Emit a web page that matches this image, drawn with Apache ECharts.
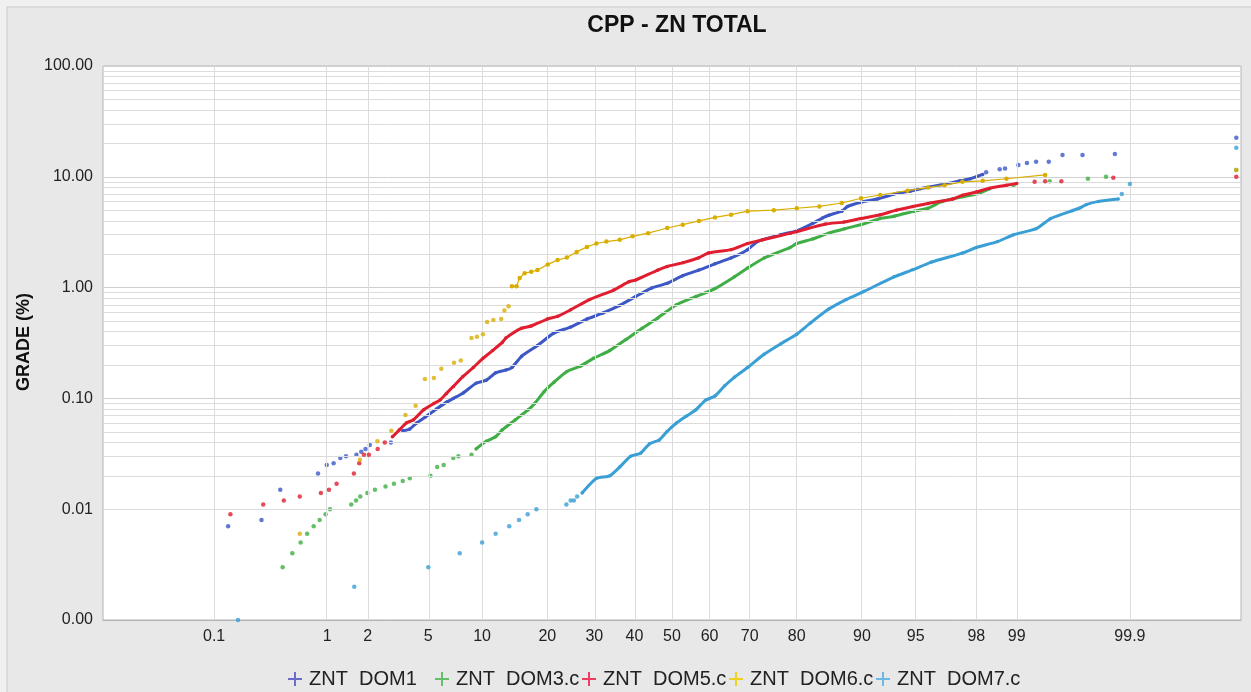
<!DOCTYPE html>
<html>
<head>
<meta charset="utf-8">
<script src="https://cdn.jsdelivr.net/npm/echarts@6/dist/echarts.min.js"></script>
<style>
  html, body { margin: 0; padding: 0; background: #f0f0f0; }
  #chart { width: 1251px; height: 692px; }
</style>
</head>
<body>
<div id="chart"></div>
<script>
// Cumulative probability (%) vs grade (%) for each domain.
// Each domain: sparse tail samples and the dense central run.
const dom1Tail = [[0.137,0.007],[0.28,0.008],[0.41,0.015],[0.845,0.021],[0.99,0.025],[1.12,0.026],[1.26,0.029],[1.39,0.030],[1.66,0.031],[1.8,0.033],[1.93,0.035],[2.07,0.038],[2.89,0.040],
  [98.3,11.0],[98.65,11.7],[98.77,11.9],[99.03,12.8],[99.17,13.3],[99.3,13.7],[99.45,13.7],[99.58,15.7],[99.72,15.7],[99.86,16.1],[99.993,22.5]];
const dom1Run = [[3.46,0.051],[3.84,0.053],[4.24,0.060],[4.8,0.068],[5.65,0.081],[6.44,0.093],[7.0,0.10],[7.94,0.112],[9.3,0.137],[10.5,0.146],[11.7,0.17],[13.1,0.18],[14.0,0.19],[15.5,0.24],[18.2,0.30],[21.3,0.39],[24.7,0.44],[28.3,0.52],[32.1,0.59],[36.2,0.69],[40.3,0.83],[44.5,0.99],[48.6,1.09],[52.9,1.28],[57.2,1.44],[61.4,1.64],[65.5,1.85],[69.5,2.2],[71.8,2.6],[76.8,3.0],[80,3.25],[82.9,3.8],[84.5,4.25],[85.5,4.5],[87.4,4.9],[88.2,5.4],[89.9,5.9],[91.7,6.3],[93.6,7.1],[94.6,7.4],[95.3,7.8],[96.9,8.7],[97.4,9.2],[97.8,9.6],[98.2,10.5]];

const dom3Tail = [[0.43,0.003],[0.52,0.004],[0.61,0.005],[0.69,0.006],[0.78,0.007],[0.87,0.008],[0.97,0.009],[1.05,0.010],[1.52,0.011],[1.65,0.012],[1.77,0.013],[1.99,0.014],[2.25,0.015],[2.66,0.016],[3.03,0.017],[3.46,0.018],[3.84,0.019],[5.15,0.020],[5.65,0.024],[6.17,0.025],[7.0,0.029],[7.47,0.030],[8.8,0.031],
  [98.94,8.4],[99.46,9.1],[99.75,9.6],[99.83,10.0],[99.993,11.5]];
const dom3Run = [[9.3,0.035],[10.5,0.041],[11.7,0.045],[12.6,0.052],[14.5,0.064],[16.6,0.079],[17.7,0.09],[19.4,0.115],[21.3,0.14],[23.9,0.175],[26.8,0.195],[29.8,0.23],[33.7,0.27],[37.8,0.34],[42,0.43],[46.1,0.53],[51.2,0.70],[56.4,0.83],[61.4,0.98],[66.3,1.25],[69.5,1.5],[73.3,1.85],[78.7,2.3],[80,2.5],[82.9,2.75],[85.5,3.1],[87.8,3.4],[89.9,3.7],[92,4.2],[93.3,4.4],[94.9,4.9],[95.8,5.2],[96.6,6.0],[97.5,6.6],[98.1,7.1],[98.4,7.8]];

const dom5Tail = [[0.144,0.009],[0.29,0.011],[0.44,0.012],[0.6,0.013],[0.89,0.014],[1.03,0.015],[1.18,0.017],[1.59,0.021],[1.74,0.026],[1.88,0.031],[2.04,0.031],[2.35,0.035],[2.63,0.040],
  [99.28,9.0],[99.41,9.1],[99.57,9.1],[99.855,9.8],[99.993,10.0]];
const dom5Run = [[2.96,0.045],[3.29,0.052],[3.65,0.060],[4.04,0.064],[4.69,0.079],[5.4,0.090],[5.9,0.097],[6.4,0.111],[7.0,0.128],[7.9,0.157],[9.0,0.19],[10.1,0.23],[11.3,0.27],[12.6,0.32],[13.1,0.35],[15.5,0.43],[17.1,0.45],[20,0.52],[22,0.55],[24.7,0.63],[28.9,0.78],[34.7,0.95],[38.6,1.13],[40.3,1.17],[46.2,1.44],[48.7,1.55],[53,1.68],[57.2,1.86],[59.7,2.05],[65.5,2.2],[69.5,2.5],[73,2.7],[78.8,3.1],[80,3.2],[85,3.75],[87.7,3.9],[89.9,4.2],[92,4.55],[93.5,5.0],[94.8,5.4],[95.8,5.75],[97.1,6.3],[97.5,6.8],[98,7.3],[98.4,7.9],[98.8,8.4],[99,8.7]];

const dom6Tail = [[0.6,0.006],[1.76,0.028],[2.34,0.041],[2.91,0.051],[3.6,0.071],[4.18,0.086],[4.77,0.15],[5.4,0.153],[5.97,0.185],[7.06,0.21],[7.7,0.22],[8.8,0.35],[9.4,0.36],[10.1,0.38],[10.6,0.49],[11.4,0.51],[12.45,0.52],[12.9,0.62],[13.5,0.68],
  [99.993,11.5]];
const dom6Run = [[14,1.03],[14.7,1.03],[15.2,1.22],[16,1.35],[17.1,1.39],[18.2,1.44],[20.1,1.62],[22,1.77],[23.9,1.87],[26,2.1],[28.3,2.33],[30.5,2.5],[32.9,2.6],[36.2,2.7],[39.5,2.9],[43.6,3.1],[48.7,3.45],[52.9,3.7],[57.2,4.0],[61.4,4.3],[65.5,4.55],[69.5,4.9],[75.4,5.0],[80,5.2],[84,5.4],[87.4,5.8],[89.9,6.4],[92,6.85],[94.4,7.5],[95.8,8.0],[96.7,8.4],[97.5,9.0],[98.2,9.2],[98.8,9.6],[99.41,10.4]];

const dom7Tail = [[0.17,0.001],[1.6,0.002],[5.0,0.003],[7.6,0.004],[10,0.005],[11.7,0.006],[13.6,0.007],[15.1,0.008],[16.5,0.009],[18,0.010],[23.8,0.011],[24.7,0.012],[25.4,0.012],[26.1,0.013],
  [99.88,7.0],[99.9,8.6],[99.993,18.3]];
const dom7Run = [[27.2,0.014],[30.5,0.019],[33.7,0.020],[36.2,0.024],[39,0.030],[41.6,0.032],[44,0.039],[46.5,0.042],[48.6,0.050],[51.2,0.060],[53.8,0.069],[56.4,0.079],[58.9,0.096],[61.4,0.105],[63.9,0.13],[66.3,0.155],[69.5,0.19],[73.3,0.25],[76.8,0.31],[80,0.38],[82.5,0.48],[85.5,0.64],[88,0.78],[90.2,0.92],[93.3,1.25],[94.8,1.45],[96,1.7],[97.5,2.05],[98,2.3],[98.6,2.6],[98.94,3.0],[99.3,3.4],[99.47,4.2],[99.7,5.2],[99.74,5.6],[99.8,6.0],[99.87,6.3]];

const seriesNames = ['ZNT  DOM1', 'ZNT  DOM3.csv', 'ZNT  DOM5.csv', 'ZNT  DOM6.csv', 'ZNT  DOM7.csv'];
const probTicks = [0.1, 1, 2, 5, 10, 20, 30, 40, 50, 60, 70, 80, 90, 95, 98, 99, 99.9];
const gradeDecades = [0.001, 0.01, 0.1, 1, 10];

// Inverse standard normal CDF (Acklam) used for the probability axis.
function probit(p) {
  const a = [-3.969683028665376e+01, 2.209460984245205e+02, -2.759285104469687e+02, 1.383577518672690e+02, -3.066479806614716e+01, 2.506628277459239e+00];
  const b = [-5.447609879822406e+01, 1.615858368580409e+02, -1.556989798598866e+02, 6.680131188771972e+01, -1.328068155288572e+01];
  const c = [-7.784894002430293e-03, -3.223964580411365e-01, -2.400758277161838e+00, -2.549732539343734e+00, 4.374664141464968e+00, 2.938163982698783e+00];
  const d = [7.784695709041462e-03, 3.224671290700398e-01, 2.445134137142996e+00, 3.754408661907416e+00];
  const pl = 0.02425, ph = 1 - pl;
  let q, r;
  if (p < pl) {
    q = Math.sqrt(-2 * Math.log(p));
    return (((((c[0]*q+c[1])*q+c[2])*q+c[3])*q+c[4])*q+c[5]) / ((((d[0]*q+d[1])*q+d[2])*q+d[3])*q+1);
  }
  if (p <= ph) {
    q = p - 0.5; r = q * q;
    return (((((a[0]*r+a[1])*r+a[2])*r+a[3])*r+a[4])*r+a[5])*q / (((((b[0]*r+b[1])*r+b[2])*r+b[3])*r+b[4])*r+1);
  }
  q = Math.sqrt(-2 * Math.log(1 - p));
  return -(((((c[0]*q+c[1])*q+c[2])*q+c[3])*q+c[4])*q+c[5]) / ((((d[0]*q+d[1])*q+d[2])*q+d[3])*q+1);
}
const toXY = arr => arr.map(([pct, g]) => [probit(pct / 100), g]);
const tickZ = probTicks.map(p => probit(p / 100));

const colors = ['#3d57c6', '#3fae45', '#e01e30', '#d9ae00', '#3a9fd5'];
const legendColors = ['#6b6bc9', '#63bf6c', '#ef3a62', '#efd21e', '#6ab8e6'];
const tails = [dom1Tail, dom3Tail, dom5Tail, dom6Tail, dom7Tail];
const runs = [dom1Run, dom3Run, dom5Run, dom6Run, dom7Run];

// minor log gridlines 2..9 inside every decade
const minorGrades = [];
gradeDecades.forEach(dec => { for (let m = 2; m <= 9; m++) minorGrades.push(+(m * dec).toPrecision(3)); });

const font = "'Liberation Sans', Arial, sans-serif";
const plusIcon = 'path://M4.3,0h1.4v4.3h4.3v1.4h-4.3v4.3h-1.4v-4.3h-4.3v-1.4h4.3z';

const series = [{
  name: 'grid',
  type: 'line',
  data: [],
  z: 1,
  silent: true,
  markLine: {
    silent: true,
    symbol: ['none', 'none'],
    label: { show: false },
    animation: false,
    lineStyle: { color: '#dcdcdc', width: 1, type: 'solid' },
    data: tickZ.map(z => ({ xAxis: z })).concat(minorGrades.map(g => ({ yAxis: g })))
  }
}];
seriesNames.forEach((name, i) => {
  series.push({
    name, type: 'line', data: toXY(runs[i]), z: 3 + i,
    symbol: 'circle', symbolSize: i === 3 ? 4.5 : 3.5, showAllSymbol: true,
    smooth: i === 3 ? false : 0.2,
    lineStyle: { color: colors[i], width: i === 3 ? 1.2 : 3 },
    itemStyle: { color: colors[i] }
  });
  series.push({
    name, type: 'scatter', data: toXY(tails[i]), z: 3 + i,
    symbol: 'circle', symbolSize: 4.5,
    itemStyle: { color: colors[i] }
  });
});

// one legend block per domain, laid out on a fixed pitch
const legends = seriesNames.map((n, i) => ({
  left: 283 + 147 * i, top: 664, itemWidth: 18, itemHeight: 14, itemGap: 0,
  data: [{ name: n, icon: plusIcon, itemStyle: { color: legendColors[i] } }],
  textStyle: { fontFamily: font, fontSize: 20, color: '#222', width: 127, overflow: 'truncate', ellipsis: '' }
}));

const chart = echarts.init(document.getElementById('chart'), null, { renderer: 'canvas' });
chart.setOption({
  animation: false,
  backgroundColor: '#f0f0f0',
  graphic: [
    { type: 'rect', z: -10, shape: { x: 7, y: 7, width: 1250, height: 690 }, style: { fill: '#e8e8e8', stroke: '#c9c9c9', lineWidth: 1 } },
    { type: 'text', x: 24, y: 342, rotation: Math.PI / 2, style: { text: 'GRADE (%)', font: 'bold 18px ' + font, fill: '#111', align: 'center', verticalAlign: 'middle' } }
  ],
  title: {
    text: 'CPP - ZN TOTAL', left: 672, top: 9, textAlign: 'center',
    textStyle: { fontFamily: font, fontWeight: 'bold', fontSize: 23, color: '#111' }
  },
  grid: { left: 103, right: 10, top: 66, bottom: 72, show: true, backgroundColor: '#ffffff', borderColor: '#b4b4b4', borderWidth: 1 },
  xAxis: {
    type: 'value', min: -3.84, max: 3.84,
    axisLine: { show: true, lineStyle: { color: '#b4b4b4' } },
    axisTick: { show: false, customValues: tickZ },
    splitLine: { show: false },
    axisLabel: {
      customValues: tickZ, margin: 9, fontSize: 16, fontFamily: font, color: '#222',
      formatter: v => {
        let best = 0;
        tickZ.forEach((z, k) => { if (Math.abs(z - v) < Math.abs(tickZ[best] - v)) best = k; });
        return String(probTicks[best]);
      }
    }
  },
  yAxis: {
    type: 'log', logBase: 10, min: 0.001, max: 100, splitNumber: 5,
    axisLine: { show: true, lineStyle: { color: '#b4b4b4' } },
    axisTick: { show: false },
    splitLine: { show: true, lineStyle: { color: '#d0d0d0' } },
    axisLabel: { margin: 10, fontSize: 16, fontFamily: font, color: '#222', formatter: v => Number(v).toFixed(2) }
  },
  legend: legends,
  series
});
</script>
</body>
</html>
